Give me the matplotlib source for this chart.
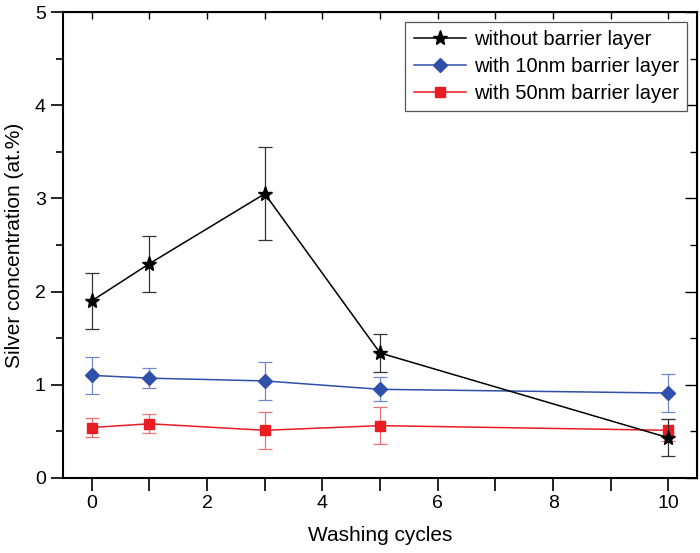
import matplotlib
matplotlib.use("Agg")
import matplotlib.pyplot as plt
from matplotlib.ticker import MultipleLocator

plt.rcParams['font.family'] = ['Liberation Sans', 'DejaVu Sans']

cycles = [0, 1, 3, 5, 10]
no_barrier = [1.90, 2.30, 3.05, 1.34, 0.43]
no_barrier_err = [0.30, 0.30, 0.50, 0.20, 0.20]
b10 = [1.10, 1.07, 1.04, 0.95, 0.91]
b10_err = [0.20, 0.11, 0.20, 0.13, 0.20]
b50 = [0.54, 0.58, 0.51, 0.56, 0.51]
b50_err = [0.10, 0.10, 0.20, 0.20, 0.12]
labels = ['without barrier layer', 'with 10nm barrier layer', 'with 50nm barrier layer']

fig = plt.figure(figsize=(7.0, 5.53), dpi=100)
ax = fig.add_axes([0.09, 0.136, 0.906, 0.842])

black = '#000000'
blue = '#2f4fab'
red = '#ec1c24'

c1 = ax.errorbar(cycles, no_barrier, yerr=no_barrier_err, color=black, lw=1.1, marker='*', ms=11,
                 ecolor='#333333', elinewidth=0.9, capsize=5, capthick=0.9, zorder=3)
c2 = ax.errorbar(cycles, b10, yerr=b10_err, color=blue, lw=1.1, marker='D', ms=7,
                 ecolor='#7088c8', elinewidth=0.9, capsize=5, capthick=0.9, zorder=2)
c3 = ax.errorbar(cycles, b50, yerr=b50_err, color=red, lw=1.1, marker='s', ms=7,
                 ecolor='#f07070', elinewidth=0.9, capsize=5, capthick=0.9, zorder=2)

ax.set_xlim(-0.5, 10.5)
ax.set_ylim(0, 5)
ax.xaxis.set_major_locator(MultipleLocator(2))
ax.xaxis.set_minor_locator(MultipleLocator(1))
ax.yaxis.set_major_locator(MultipleLocator(1))
ax.yaxis.set_minor_locator(MultipleLocator(0.5))

ax.tick_params(which='both', direction='out', top=False, right=False, labelsize=14, width=1.2)
ax.tick_params(which='major', length=9)
ax.tick_params(axis='x', which='minor', length=9)
ax.tick_params(axis='y', which='minor', length=5)

axt = ax.secondary_xaxis('top')
axt.xaxis.set_major_locator(MultipleLocator(2))
axt.xaxis.set_minor_locator(MultipleLocator(1))
axt.tick_params(which='both', direction='in', length=5, width=1.0, labeltop=False)
axr = ax.secondary_yaxis('right')
axr.yaxis.set_major_locator(MultipleLocator(1))
axr.yaxis.set_minor_locator(MultipleLocator(0.5))
axr.tick_params(which='both', direction='in', length=5, width=1.0, labelright=False)
axr.tick_params(which='major', length=9)

for s in ax.spines.values():
    s.set_linewidth(1.5)

ax.set_xlabel('Washing cycles', fontsize=15, labelpad=10)
ax.set_ylabel('Silver concentration (at.%)', fontsize=15, labelpad=8)

leg = ax.legend([c1[0], c2[0], c3[0]], labels, loc='upper right', fontsize=14.5, frameon=True,
                fancybox=False, edgecolor='#555555', framealpha=1, borderaxespad=0.5,
                handlelength=2.6, labelspacing=0.38, borderpad=0.4, handletextpad=0.4)
leg.get_frame().set_linewidth(0.9)

fig.savefig('out.png', dpi=100)
